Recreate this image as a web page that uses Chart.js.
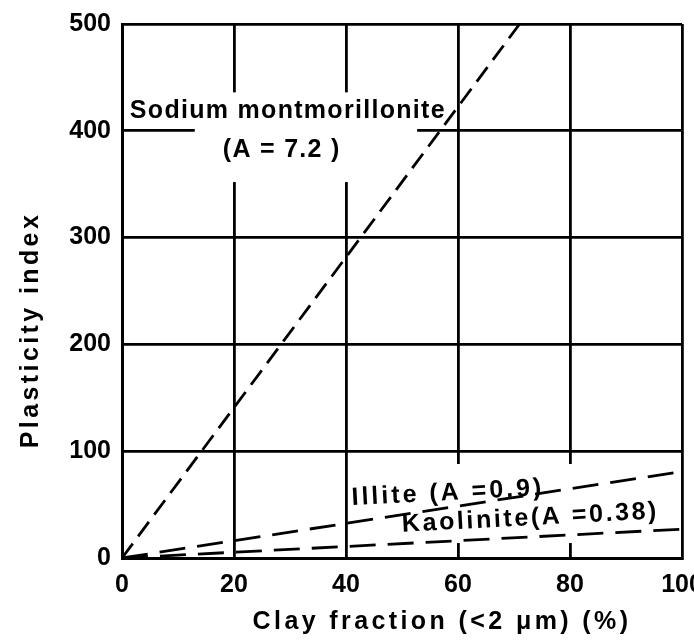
<!DOCTYPE html>
<html>
<head>
<meta charset="utf-8">
<script src="https://cdn.jsdelivr.net/npm/chart.js@4/dist/chart.umd.min.js"></script>
<style>
  html, body { margin: 0; padding: 0; background: #fff; }
  canvas { display: block; }
</style>
</head>
<body>
<canvas id="plasticityChart" width="694" height="641"></canvas>
<script>
// clay fraction (%) vs plasticity index
const sodiumX = [0, 71];
const sodiumY = [0, 500];
const illiteX = [0, 100];
const illiteY = [0, 81];
const kaoliniteX = [0, 100];
const kaoliniteY = [0, 27];

const xTicks = [0, 20, 40, 60, 80, 100];
const yTicks = [0, 100, 200, 300, 400, 500];

const xTitle = 'Clay fraction (<2 μm) (%)';
const yTitle = 'Plasticity index';

// label texts (data units for placement)
const labels = [
    { text: 'Sodium montmorillonite', x: 1.4, y: 412, angle: 0, spacing: 1.3, baseline: 'alphabetic' },
    { text: '(A = 7.2 )', x: 18, y: 382, angle: 0, spacing: 1.3, baseline: 'middle' },
    { text: 'Illite (A =0.9)', x: 41, y: 56, angle: -3, spacing: 3, baseline: 'middle' },
    { text: 'Kaolinite(A =0.38)', x: 50, y: 31, angle: -3, spacing: 2.6, baseline: 'middle' }
];
// areas where the grid is broken by the labels
const gridGaps = [
    { x0: 13, x1: 52.7, y0: 352, y1: 436 },
    { x0: 42, x1: 98, y0: 14, y1: 88 }
];

const FONT = '"Liberation Sans", Arial, sans-serif';

function pts(xs, ys) {
    return xs.map((x, i) => ({ x: x, y: ys[i] }));
}

const labelPlugin = {
    id: 'labelPlugin',
    beforeDatasetsDraw(chart) {
        const { ctx, scales } = chart;
        ctx.save();
        ctx.fillStyle = '#fff';
        gridGaps.forEach(g => {
            const l = scales.x.getPixelForValue(g.x0);
            const r = scales.x.getPixelForValue(g.x1);
            const t = scales.y.getPixelForValue(g.y1);
            const b = scales.y.getPixelForValue(g.y0);
            ctx.fillRect(l, t, r - l, b - t);
        });
        ctx.restore();
    },
    afterDatasetsDraw(chart) {
        const { ctx, scales } = chart;
        ctx.save();
        ctx.fillStyle = '#000';
        ctx.font = 'bold 25px ' + FONT;
        labels.forEach(lb => {
            ctx.save();
            ctx.letterSpacing = lb.spacing + 'px';
            ctx.textAlign = 'left';
            ctx.textBaseline = lb.baseline;
            ctx.translate(scales.x.getPixelForValue(lb.x), scales.y.getPixelForValue(lb.y));
            ctx.rotate(lb.angle * Math.PI / 180);
            ctx.fillText(lb.text, 0, 0);
            ctx.restore();
        });
        ctx.restore();
    },
    afterDraw(chart) {
        const { ctx } = chart;
        ctx.save();
        ctx.fillStyle = '#000';
        ctx.font = 'bold 25px ' + FONT;
        ctx.letterSpacing = '3.4px';
        ctx.textAlign = 'center';
        ctx.textBaseline = 'middle';
        ctx.fillText(xTitle, 442, 622);
        ctx.translate(31, 330);
        ctx.rotate(-Math.PI / 2);
        ctx.fillText(yTitle, 0, 0);
        ctx.restore();
    }
};

const lineStyle = {
    borderColor: '#000',
    borderWidth: 2.8,
    pointRadius: 0,
    fill: false,
    tension: 0
};

new Chart(document.getElementById('plasticityChart'), {
    type: 'line',
    data: {
        datasets: [
            Object.assign({ label: 'Sodium montmorillonite', data: pts(sodiumX, sodiumY), borderDash: [18, 9] }, lineStyle),
            Object.assign({ label: 'Illite', data: pts(illiteX, illiteY), borderDash: [26, 12] }, lineStyle),
            Object.assign({ label: 'Kaolinite', data: pts(kaoliniteX, kaoliniteY), borderDash: [26, 12] }, lineStyle)
        ]
    },
    options: {
        responsive: false,
        animation: false,
        devicePixelRatio: 1,
        layout: { padding: { left: 0, right: 12, top: 24, bottom: 0 } },
        plugins: {
            legend: { display: false },
            tooltip: { enabled: false }
        },
        scales: {
            x: {
                type: 'linear',
                min: 0,
                max: 100,
                afterBuildTicks: s => { s.ticks = xTicks.map(v => ({ value: v })); },
                afterFit: s => { s.height = 83; s.paddingLeft = 0; s.paddingRight = 0; },
                grid: { color: '#000', lineWidth: 2.8, drawTicks: false },
                border: { display: true, color: '#000', width: 3 },
                ticks: {
                    color: '#000',
                    padding: 12,
                    maxRotation: 0,
                    font: { family: FONT, size: 25, weight: 'bold' }
                }
            },
            y: {
                type: 'linear',
                min: 0,
                max: 500,
                afterBuildTicks: s => { s.ticks = yTicks.map(v => ({ value: v })); },
                afterFit: s => { s.width = 122; s.paddingTop = 0; s.paddingBottom = 0; },
                grid: { color: '#000', lineWidth: 2.8, drawTicks: false },
                border: { display: true, color: '#000', width: 3 },
                ticks: {
                    color: '#000',
                    padding: 11,
                    font: { family: FONT, size: 25, weight: 'bold' }
                }
            }
        }
    },
    plugins: [labelPlugin]
});
</script>
</body>
</html>
